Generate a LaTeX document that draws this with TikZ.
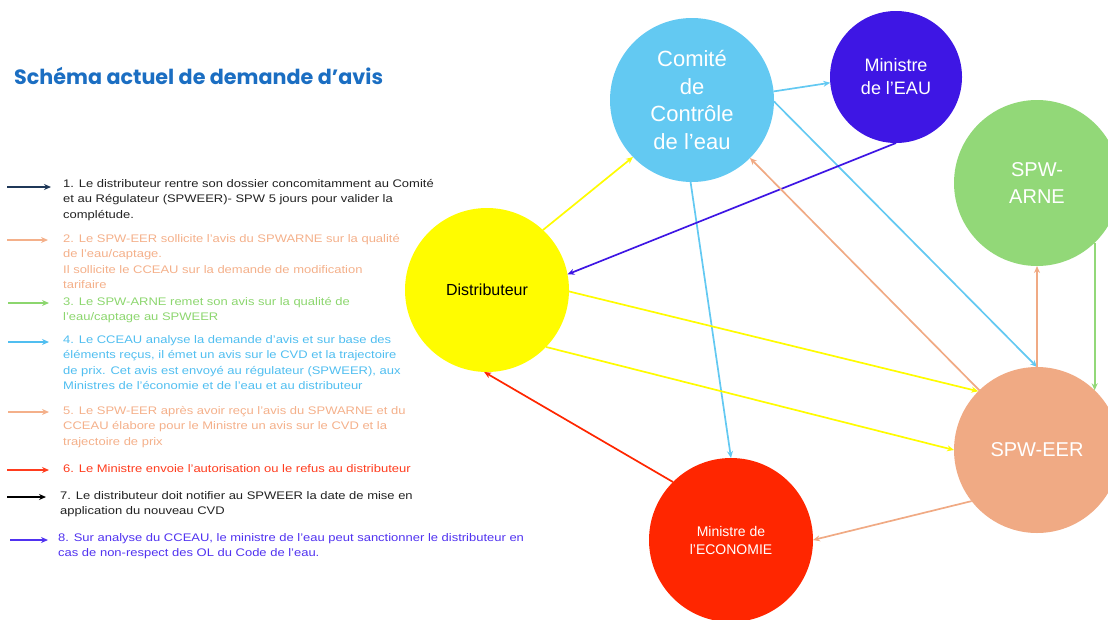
\documentclass[tikz,border=0pt]{standalone}
\usepackage{fontspec}
\setmainfont{Liberation Sans}
\newfontfamily\titlefont{Poppins}
\newfontfamily\legfont[FakeStretch=1.18]{Liberation Sans}
\usetikzlibrary{arrows.meta}

\definecolor{comblue}{RGB}{99,201,242}
\definecolor{eauviolet}{RGB}{62,22,228}
\definecolor{arnegreen}{RGB}{146,216,120}
\definecolor{distyellow}{RGB}{255,252,0}
\definecolor{eersalmon}{RGB}{240,170,132}
\definecolor{ecored}{RGB}{255,38,0}
\definecolor{titleblue}{RGB}{27,110,194}
\definecolor{legnavy}{RGB}{31,56,88}
\definecolor{legsalmon}{RGB}{244,176,138}
\definecolor{leggreen}{RGB}{140,214,110}
\definecolor{legblue}{RGB}{80,190,240}
\definecolor{legred}{RGB}{255,60,30}
\definecolor{legviolet}{RGB}{80,50,240}
\definecolor{legtext}{RGB}{34,34,34}

\tikzset{
  actor/.style={circle,inner sep=0pt,outer sep=0pt,align=center,text=white},
  flow/.style={line width=1.7pt,-{Stealth[length=7pt,width=6pt]}},
  legarrow/.style={line width=1.5pt,-{Stealth[length=7pt,width=6pt]}},
  legtext/.style={anchor=north west,align=left,inner sep=0pt,font=\legfont\fontsize{11}{15.5}\selectfont},
}

\begin{document}
\begin{tikzpicture}[x=1pt,y=-1pt]
\useasboundingbox (0,0) rectangle (1108,619);
\node[anchor=west,inner sep=0pt,text=titleblue,font=\titlefont\bfseries\fontsize{20.7}{24}\selectfont] (titre) at (14,76) {Schéma actuel de demande d’avis};

\draw[legarrow,draw=legnavy] (7,187) -- (51,187);
\node[legtext,text=legtext] (leg1) at (63,179) {1. Le distributeur rentre son dossier concomitamment au Comité\\et au Régulateur (SPWEER)- SPW 5 jours pour valider la\\complétude.};
\draw[legarrow,draw=legsalmon] (7,240) -- (48,240);
\node[legtext,text=legsalmon] (leg2) at (63,234) {2. Le SPW-EER sollicite l’avis du SPWARNE sur la qualité\\de l’eau/captage.\\Il sollicite le CCEAU sur la demande de modification\\tarifaire};
\draw[legarrow,draw=leggreen] (8,303) -- (49,303);
\node[legtext,text=leggreen] (leg3) at (63,297) {3. Le SPW-ARNE remet son avis sur la qualité de\\l’eau/captage au SPWEER};
\draw[legarrow,draw=legblue] (8,342) -- (49,342);
\node[legtext,text=legblue] (leg4) at (63,335) {4. Le CCEAU analyse la demande d’avis et sur base des\\éléments reçus, il émet un avis sur le CVD et la trajectoire\\de prix. Cet avis est envoyé au régulateur (SPWEER), aux\\Ministres de l’économie et de l’eau et au distributeur};
\draw[legarrow,draw=legsalmon] (8,412) -- (49,412);
\node[legtext,text=legsalmon] (leg5) at (63,406) {5. Le SPW-EER après avoir reçu l’avis du SPWARNE et du\\CCEAU élabore pour le Ministre un avis sur le CVD et la\\trajectoire de prix};
\draw[legarrow,draw=legred] (7,470) -- (49,470);
\node[legtext,text=legred] (leg6) at (63,464) {6. Le Ministre envoie l’autorisation ou le refus au distributeur};
\draw[legarrow,draw=black] (7,497) -- (46,497);
\node[legtext,text=legtext] (leg7) at (60,491) {7. Le distributeur doit notifier au SPWEER la date de mise en\\application du nouveau CVD};
\draw[legarrow,draw=legviolet] (10,540) -- (48,540);
\node[legtext,text=legviolet] (leg8) at (58,533) {8. Sur analyse du CCEAU, le ministre de l’eau peut sanctionner le distributeur en\\cas de non-respect des OL du Code de l’eau.};

\node[actor,fill=comblue,minimum size=164pt,font=\fontsize{22}{27.5}\selectfont] (comite) at (692,100) {Comité\\de\\Contrôle\\de l’eau};
\node[actor,fill=eauviolet,minimum size=132pt,font=\fontsize{18}{23}\selectfont] (eau) at (896,77) {Ministre\\de l’EAU};
\node[actor,fill=arnegreen,minimum size=166pt,font=\fontsize{20}{27}\selectfont] (arne) at (1037,183) {SPW-\\ARNE};
\node[actor,fill=distyellow,text=black,minimum size=164pt,font=\fontsize{16}{19}\selectfont] (dist) at (487,290) {Distributeur};
\node[actor,fill=eersalmon,minimum size=166pt,font=\fontsize{20}{24}\selectfont] (eer) at (1037,450) {SPW-EER};
\node[actor,fill=ecored,minimum size=164pt,font=\fontsize{14}{18}\selectfont] (eco) at (731,540) {Ministre de\\l’ECONOMIE};

\draw[flow,draw=distyellow] (dist.47) -- (comite.224);
\draw[flow,draw=comblue] (comite.6) -- (eau.185);
\draw[flow,draw=comblue] (comite.-1) -- (eer.90);
\draw[flow,draw=comblue] (comite.269) -- (eco.90);
\draw[flow,draw=eauviolet] (eau.270) -- (dist.11);
\draw[flow,draw=eersalmon] (eer.134) -- (comite.-45);
\draw[flow,draw=eersalmon] (eer.90) -- (arne.270);
\draw[flow,draw=arnegreen] (arne.-46.5) -- (eer.46.5);
\draw[flow,draw=distyellow] (dist.-1) -- (eer.135.5);
\draw[flow,draw=distyellow] (dist.-44.5) -- (eer.180);
\draw[flow,draw=ecored] (eco.135) -- (dist.268);
\draw[flow,draw=eersalmon] (eer.218) -- (eco.0);
\end{tikzpicture}
\end{document}
